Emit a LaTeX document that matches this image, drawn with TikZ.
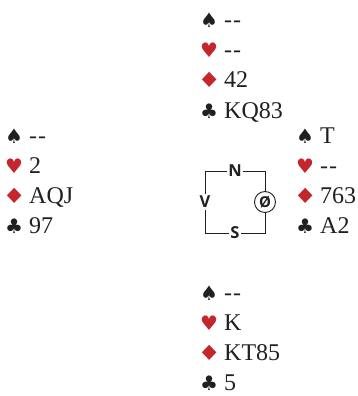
\documentclass[tikz,border=0pt]{standalone}
\usepackage{fontspec}
\setmainfont{Liberation Serif}[Ligatures=NoCommon]
\newfontfamily\suitfont{DejaVu Sans}
\newfontfamily\compassfont{Open Sans}
\definecolor{suitred}{RGB}{196,38,46}
\definecolor{ink}{RGB}{35,31,32}
\newcommand{\suitsym}[2]{\makebox[16pt][c]{{\suitfont\fontsize{20}{20}\selectfont\color{#1}#2}}\hspace{7pt}}
\newcommand{\spd}{\suitsym{ink}{♠}}
\newcommand{\hrt}{\suitsym{suitred}{♥}}
\newcommand{\dmd}{\suitsym{suitred}{\scalebox{1.3}[1.05]{♦}}}
\newcommand{\clb}{\suitsym{ink}{♣}}
\newcommand{\void}{-{}\kern1pt-}
\tikzset{
  handrow/.style={anchor=base west, inner sep=0pt, font=\fontsize{24}{24}\selectfont, text=ink},
  seat/.style={inner sep=1.5pt, font=\compassfont\bfseries\fontsize{16.5}{16.5}\selectfont, text=ink},
  dealer/.style={circle, draw=ink, line width=0.9pt, inner sep=0pt, minimum size=21pt, font=\compassfont\bfseries\fontsize{15}{15}\selectfont, text=ink},
  compassline/.style={draw=ink, line width=0.9pt}
}
\begin{document}
\begin{tikzpicture}[x=1pt, y=-1pt]
\useasboundingbox (0,0) rectangle (358,396);
% North
\node[handrow] (n1) at (201,28) {\spd\void};
\node[handrow] (n2) at (201,58) {\hrt\void};
\node[handrow] (n3) at (201,88) {\dmd42};
\node[handrow] (n4) at (201,118) {\clb KQ83};
% West
\node[handrow] (w1) at (6,143) {\spd\void};
\node[handrow] (w2) at (6,173) {\hrt2};
\node[handrow] (w3) at (6,203) {\dmd AQJ};
\node[handrow] (w4) at (6,233) {\clb97};
% East
\node[handrow] (e1) at (297,143) {\spd T};
\node[handrow] (e2) at (297,173) {\hrt\void};
\node[handrow] (e3) at (297,203) {\dmd763};
\node[handrow] (e4) at (297,233) {\clb A2};
% South
\node[handrow] (s1) at (201,300) {\spd\void};
\node[handrow] (s2) at (201,330) {\hrt K};
\node[handrow] (s3) at (201,360) {\dmd KT85};
\node[handrow] (s4) at (201,390) {\clb5};
% Compass
\node[seat] (N) at (235,171) {N};
\node[seat] (V) at (205,202) {V};
\node[seat] (S) at (235,233) {S};
\node[dealer] (O) at (265,202) {Ø};
\draw[compassline] (N.west) -| (V.north);
\draw[compassline] (V.south) |- (S.west);
\draw[compassline] (S.east) -| (O.south);
\draw[compassline] (O.north) |- (N.east);
\end{tikzpicture}
\end{document}
